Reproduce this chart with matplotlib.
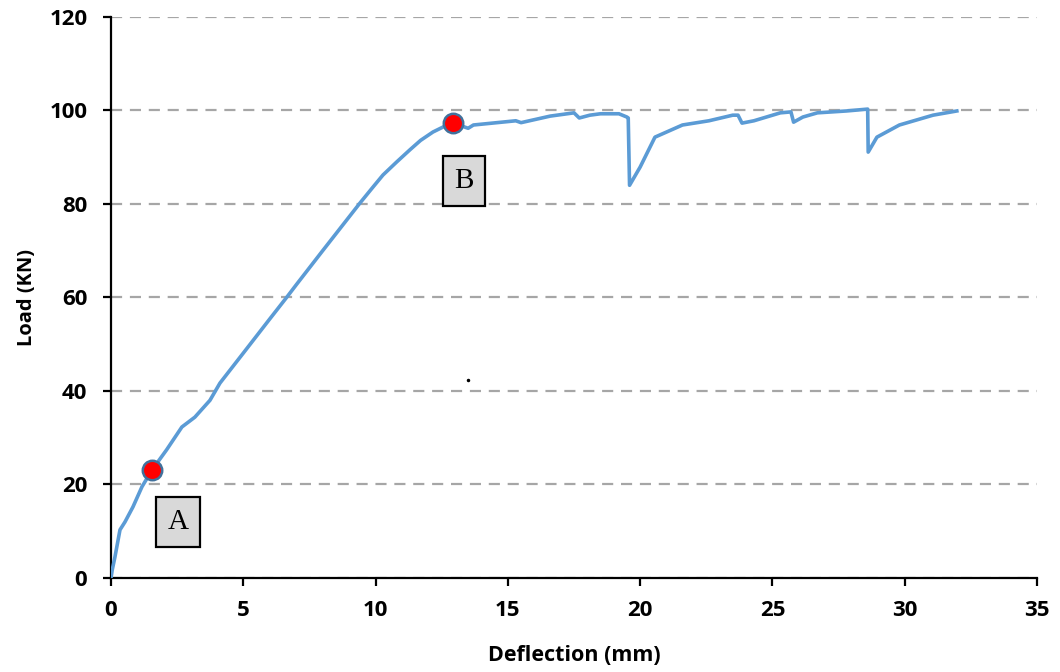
import numpy as np
import matplotlib
matplotlib.use("Agg")
import matplotlib.pyplot as plt

# load-deflection curve
deflection = [0.0, 0.05, 0.15, 0.34, 0.53, 0.83, 1.17, 1.55, 2.1, 2.68, 3.17, 3.74, 4.12,
              5.0, 6.0, 6.65, 7.0, 8.0, 9.41, 9.9, 10.28, 10.8, 11.3, 11.7, 12.17, 12.6,
              12.93, 13.5, 13.7, 15.3, 15.5,
              16.6, 17.5, 17.7, 18.1, 18.5, 19.2, 19.5, 19.55, 19.6, 20.0, 20.56,
              21.0, 21.6, 22.6, 23.5, 23.7, 23.85, 24.3, 25.3, 25.7, 25.8, 26.15,
              26.7, 27.8, 28.6, 28.62, 28.95, 29.8, 31.07, 31.97]
load = [0.0, 1.8, 4.5, 10.3, 12.0, 15.2, 19.5, 23.1, 27.4, 32.3, 34.4, 38.0, 41.7,
        48.1, 55.4, 60.1, 62.7, 70.0, 80.2, 83.6, 86.2, 89.0, 91.6, 93.6, 95.4, 96.6,
        97.3, 96.2, 96.9, 97.8, 97.4,
        98.8, 99.5, 98.4, 99.0, 99.3, 99.3, 98.6, 98.4, 84.0, 87.9, 94.3,
        95.4, 96.9, 97.8, 99.0, 99.0, 97.3, 97.8, 99.5, 99.7, 97.5, 98.6,
        99.5, 99.9, 100.3, 91.1, 94.3, 96.9, 99.0, 99.9]

point_x = [1.55, 12.93]
point_y = [23.1, 97.3]
point_labels = ["A", "B"]
label_x = [2.53, 13.34]
label_y = [12.0, 84.9]

fig = plt.figure(figsize=(10.6, 6.72), dpi=100)
ax = fig.add_axes([0.1047, 0.1399, 0.8736, 0.8348])

ax.plot(deflection, load, color="#5B9BD5", lw=2.6, zorder=3)
ax.plot(point_x, point_y, "o", ms=14, mfc="red", mec="#41719C", mew=1.8, zorder=4)
ax.plot([13.5], [42.4], "o", ms=1.5, color="black")

for lx, ly, t in zip(label_x, label_y, point_labels):
    ax.text(lx, ly, t, family="Liberation Serif", fontsize=21, ha="center", va="center",
            bbox=dict(boxstyle="square,pad=0.4", fc="#D9D9D9", ec="black", lw=1.6))

ax.set_xlim(0, 35)
ax.set_ylim(0, 120)
ax.set_xticks(np.arange(0, 36, 5))
ax.set_yticks(np.arange(0, 121, 20))
ax.yaxis.grid(True, ls=(0, (5, 3.5)), color="#A6A6A6", lw=1.6)
ax.set_axisbelow(True)

for s in ["top", "right"]:
    ax.spines[s].set_visible(False)
for s in ["left", "bottom"]:
    ax.spines[s].set_linewidth(1.6)

ax.tick_params(axis="y", direction="out", length=6, width=1.6, pad=11)
ax.tick_params(axis="x", direction="out", length=6, width=1.6, pad=10)
for lab in ax.get_xticklabels() + ax.get_yticklabels():
    lab.set_fontsize(16)
    lab.set_fontweight("bold")
    lab.set_family("Open Sans")

ax.set_xlabel("Deflection (mm)", fontsize=15.5, fontweight="bold", family="Open Sans", labelpad=17)
ax.set_ylabel("Load (KN)", fontsize=14.5, fontweight="bold", family="Open Sans", labelpad=9)

fig.savefig("out.png", dpi=100)
